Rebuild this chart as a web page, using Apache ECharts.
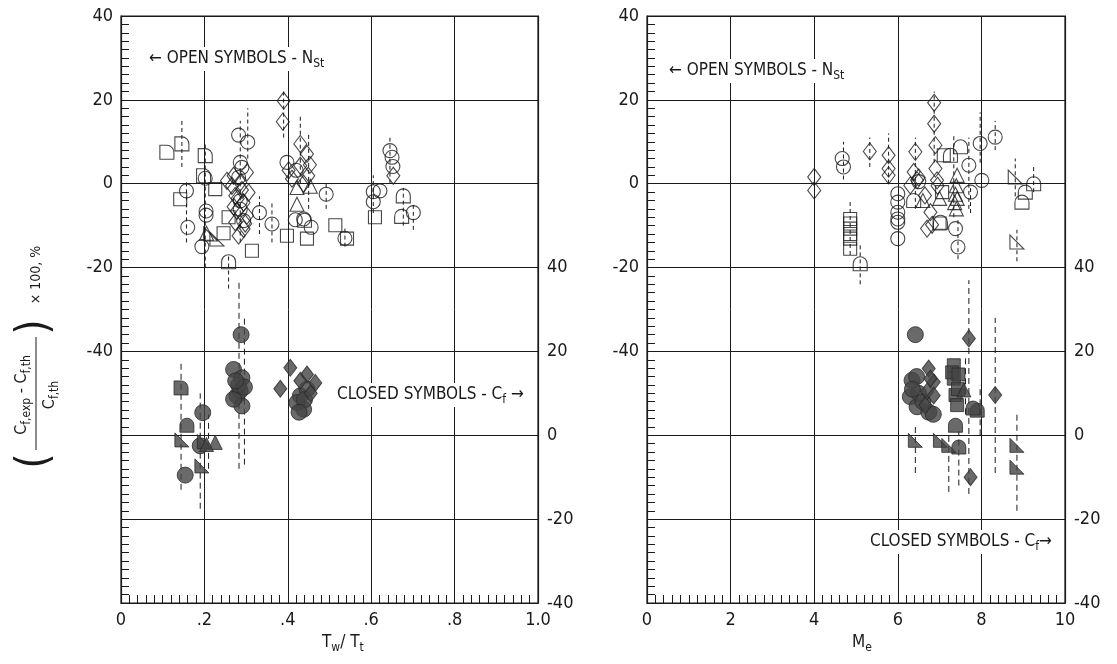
<!DOCTYPE html>
<html><head><meta charset="utf-8">
<script src="https://cdn.jsdelivr.net/npm/echarts@6/dist/echarts.min.js"></script>
<style>html,body{margin:0;padding:0;background:#fff}#c{width:1117px;height:664px}</style>
</head><body><div id="c"></div>
<script>
// ---------- Tick labels ----------
var leftXTicks = ['0', '.2', '.4', '.6', '.8', '1.0'];
var rightXTicks = ['0', '2', '4', '6', '8', '10'];

// ---------- LEFT PANEL (x = Tw/Tt) ----------
// open symbols (Stanton number), left-axis units
var L_openCircle = [[.157,-1.7],[.160,-10.4],[.194,-15],[.202,1.3],[.204,-6.5],[.204,-7.5],[.282,11.6],[.304,9.9],[.286,5.1],[.290,3.9],[.282,1.5],[.286,-4.1],[.286,-6.1],[.294,-8.8],[.332,-6.9],[.362,-9.6],[.418,-8.6],[.438,-8.4],[.456,-10.4],[.492,-2.5],[.537,-13],[.605,-1.9],[.605,-4.3],[.621,-1.7],[.701,-6.9],[.645,7.9],[.650,6.3],[.652,4.1],[.398,5.1],[.42,3.2]];
var L_openSquare = [[.142,-3.7],[.226,-1.3],[.258,-8],[.246,-11.8],[.314,-16],[.398,-12.4],[.446,-13.1],[.514,-9.9],[.542,-13.1],[.609,-8]];
var L_openDiamond = [[.390,19.8],[.388,14.8],[.430,9.5],[.446,7.1],[.430,4.3],[.449,1.9],[.438,0],[.402,3.2],[.41,1.2],[.453,4.5],[.653,1.9],[.270,1.9],[.286,0.3],[.302,2.7],[.274,-2.9],[.294,-4.5],[.278,-6.5],[.302,-7.6],[.274,-9.2],[.294,-10.8],[.282,-12.4],[.266,-0.5],[.306,-2.1],[.254,0.7],[.29,-1.5],[.28,-3.5],[.298,-9.5],[.27,-5.5]];
var L_openTriangle = [[.422,-0.9],[.422,-4.9],[.454,-0.6],[.205,-11.8]];
var L_openRightTri = [[.230,-13.2],[.215,-12]];
var L_openArch = [[.258,-18.6],[.677,-2.9],[.673,-7.8],[.440,-8.7]];
var L_openQuarter = [[.110,7.5],[.146,9.5],[.202,6.7],[.198,1.9]];
var L_openBars = [[.146,4,15.5],[.157,-14,1],[.202,-20,10],[.286,-14,15],[.304,6,18],[.43,0,16],[.45,-6,12],[.39,11,22],[.332,-12,-3],[.362,-14,-4],[.492,-6,0],[.537,-15,-10],[.605,-7,2],[.645,0,11],[.677,-10,-1],[.701,-11,-5],[.258,-25,-17]];
// closed symbols (skin friction), right-axis units
var L_closedCircle = [[.288,24],[.196,5.4],[.19,-2.5],[.154,-9.5],[.270,15.7],[.290,13.7],[.278,9.4],[.290,7],[.286,10.6],[.270,8.6],[.282,12],[.296,11.5],[.275,13],[.430,9.4],[.438,6.2],[.422,7.8],[.446,11],[.44,8.5],[.427,5.5]];
var L_closedDiamond = [[.406,16.1],[.382,11.1],[.446,14.5],[.466,12.5],[.43,13],[.455,10]];
var L_closedArch = [[.158,2.4]];
var L_closedQuarter = [[.144,11.3]];
var L_closedRightTri = [[.146,-1.1],[.194,-7.3],[.2,-1.5]];
var L_closedTriangle = [[.226,-1.7],[.205,-2.2]];
var L_closedBars = [[.283,-8,37],[.296,-7,28],[.144,-13,18],[.19,-17.5,10],[.21,-8,5]];

// ---------- RIGHT PANEL (x = Me) ----------
var R_openDiamond = [[4.0,1.6],[4.0,-1.6],[5.33,7.7],[5.78,6.8],[5.78,3.6],[5.78,2],[6.42,7.6],[6.38,2.8],[6.46,0.8],[6.30,-0.4],[6.87,19.3],[6.87,14.3],[6.90,9.2],[6.90,3.6],[6.94,0.8],[6.78,-6.8],[6.70,-10.7],[6.82,-9.8],[6.65,-2.8],[6.5,1.5],[6.95,-0.5]];
var R_openCircle = [[4.67,6],[4.70,4],[6.0,-2.4],[6.0,-4.4],[6.0,-6.8],[6.0,-8.4],[6.0,-9.2],[6.0,-13.1],[7.38,-10.7],[7.44,-15.1],[7.70,4.4],[7.74,-2],[7.97,9.6],[8.01,0.8],[8.33,11.1],[6.5,0.5]];
var R_openSquare = [[4.86,-8.4],[4.86,-10.7],[4.86,-13.1],[4.86,-15.5],[4.86,-9.5],[4.86,-12],[7.06,-2],[7.10,6.8],[7.0,-9.5]];
var R_openTriangle = [[7.42,2],[7.40,-0.5],[7.38,-2.5],[7.36,-4.5],[7.40,-6],[7.42,-3.5],[7.0,-3.5],[6.6,-4]];
var R_openRightTri = [[8.81,1.6],[8.85,-13.9]];
var R_openArch = [[5.10,-19.1],[7.50,8.8],[7.26,6.8],[9.05,-2],[8.97,-4.4],[9.25,0],[7.02,-9.2],[6.38,-4]];
var R_openBars = [[4.70,1,10],[4.86,-17,-4],[5.10,-24,-14],[5.33,4,11],[5.78,0,12],[6.42,-6,11],[6.87,5,22],[7.34,-8,12],[7.44,-18,-8],[7.70,-6,11],[7.97,5,17],[8.33,8,15],[8.81,-3,6],[8.85,-18.5,-11],[9.25,-2,4],[7.74,-7,-1]];
var R_closedCircle = [[6.42,24],[6.34,13.1],[6.30,9.2],[6.46,6.8],[6.74,5.5],[6.5,10],[6.6,8],[6.85,5],[6.45,14],[6.35,11]];
var R_closedDiamond = [[7.70,23.1],[8.33,9.6],[7.74,-10],[6.74,15.9],[6.86,12.7],[6.70,10.4],[6.66,7.2],[6.86,9.5],[6.78,13.5]];
var R_closedSquare = [[7.34,16.7],[7.34,13.5],[7.38,9.6],[7.42,7.2],[7.44,11],[7.3,15],[7.45,14.5]];
var R_closedTriangle = [[7.58,10.8]];
var R_closedArch = [[7.90,6],[7.38,2.4],[7.8,6.5],[7.46,-2.8]];
var R_closedRightTri = [[6.42,-1.2],[7.02,-1.2],[7.22,-2.4],[8.85,-2.4],[8.85,-7.6]];
var R_closedBars = [[7.70,-14,37],[8.33,-9,28],[8.85,-18,5],[6.42,-9,2],[7.22,-13.5,0],[7.46,-12,1],[7.62,5,19],[7.97,0,12]];

// ---------- styling ----------
var FONT = "'Liberation Sans Narrow','DejaVu Sans Condensed','DejaVu Sans',sans-serif";
var INK = '#1a1a1a';
var SYM = {
  circle: 'circle',
  square: 'rect',
  diamond: 'diamond',
  triangle: 'triangle',
  rightTri: 'path://M0,0L0,10L10,10Z',
  arch: 'path://M0,10L0,5A5,5 0 0 1 10,5L10,10Z',
  quarter: 'path://M0,0L5,0A5,5 0 0 1 10,5L10,10L0,10Z'
};
var SIZE = {circle:14, square:13, diamond:[13,17], triangle:14, rightTri:14, arch:14, quarter:14};

function scat(data, shape, g, yIdx, filled) {
  return {
    type: 'scatter', xAxisIndex: g, yAxisIndex: yIdx, data: data,
    symbol: SYM[shape], symbolSize: filled && shape === 'circle' ? 16 : SIZE[shape],
    symbolKeepAspect: false, silent: true, z: filled ? 4 : 3,
    itemStyle: filled ? {color: '#454545', borderColor: '#2a2a2a', borderWidth: 1}
                      : {color: 'rgba(0,0,0,0)', borderColor: INK, borderWidth: 1.1}
  };
}
function bars(data, g, yIdx, dash) {
  return {
    type: 'custom', xAxisIndex: g, yAxisIndex: yIdx, data: data, silent: true, z: 2,
    encode: {x: 0, y: [1, 2]},
    renderItem: function (params, api) {
      var p1 = api.coord([api.value(0), api.value(1)]);
      var p2 = api.coord([api.value(0), api.value(2)]);
      return {type: 'line', shape: {x1: p1[0], y1: p1[1], x2: p2[0], y2: p2[1]},
              style: {stroke: INK, lineWidth: 1, lineDash: dash}};
    }
  };
}

function xAx(g, max, interval, ticks) {
  return {
    gridIndex: g, type: 'value', min: 0, max: max, interval: interval, position: 'bottom',
    axisLine: {show: true, onZero: false, lineStyle: {color: INK, width: 1.2}},
    axisTick: {show: true, inside: true, length: 12, lineStyle: {color: INK}},
    minorTick: {show: true, splitNumber: 10, length: 8, lineStyle: {color: INK}},
    splitLine: {show: true, lineStyle: {color: INK, width: 1}},
    axisLabel: {color: INK, fontFamily: FONT, fontSize: 18, margin: 8,
      formatter: function (v) { return ticks[Math.round(v / interval)]; }}
  };
}
function yLeft(g) {
  return {
    gridIndex: g, type: 'value', min: -100, max: 40, interval: 20, position: 'left',
    axisLine: {show: true, onZero: false, lineStyle: {color: INK, width: 1.2}},
    axisTick: {show: true, inside: true, length: 9, lineStyle: {color: INK}},
    minorTick: {show: true, splitNumber: 10, length: 8, lineStyle: {color: INK}},
    splitLine: {show: true, lineStyle: {color: INK, width: 1}},
    axisLabel: {color: INK, fontFamily: FONT, fontSize: 18, margin: 8,
      formatter: function (v) { return v >= -40 ? String(v) : ''; }}
  };
}
function yRight(g) {
  return {
    gridIndex: g, type: 'value', min: -40, max: 100, interval: 20, position: 'right',
    axisLine: {show: true, onZero: false, lineStyle: {color: INK, width: 1.2}},
    axisTick: {show: false}, splitLine: {show: false},
    axisLabel: {color: INK, fontFamily: FONT, fontSize: 18, margin: 9,
      formatter: function (v) { return v <= 40 ? String(v) : ''; }}
  };
}

var sub = {s: {fontSize: 12, fontFamily: FONT, padding: [10, 0, 0, 0], verticalAlign: 'bottom'}};
function label(x, y, str) {
  return {type: 'text', left: x, top: y, z: 10, silent: true,
    style: {text: str, fill: INK, font: '17px ' + FONT, rich: sub, backgroundColor: '#fff', padding: [1, 3]}};
}

var series = [
  bars(L_openBars, 0, 0, [4, 3]), bars(L_closedBars, 0, 1, [6, 4]),
  scat(L_openCircle, 'circle', 0, 0, false), scat(L_openSquare, 'square', 0, 0, false),
  scat(L_openDiamond, 'diamond', 0, 0, false), scat(L_openTriangle, 'triangle', 0, 0, false),
  scat(L_openRightTri, 'rightTri', 0, 0, false), scat(L_openArch, 'arch', 0, 0, false),
  scat(L_openQuarter, 'quarter', 0, 0, false),
  scat(L_closedCircle, 'circle', 0, 1, true), scat(L_closedDiamond, 'diamond', 0, 1, true),
  scat(L_closedArch, 'arch', 0, 1, true), scat(L_closedQuarter, 'quarter', 0, 1, true),
  scat(L_closedRightTri, 'rightTri', 0, 1, true), scat(L_closedTriangle, 'triangle', 0, 1, true),

  bars(R_openBars, 1, 2, [4, 3]), bars(R_closedBars, 1, 3, [6, 4]),
  scat(R_openDiamond, 'diamond', 1, 2, false), scat(R_openCircle, 'circle', 1, 2, false),
  scat(R_openSquare, 'square', 1, 2, false), scat(R_openTriangle, 'triangle', 1, 2, false),
  scat(R_openRightTri, 'rightTri', 1, 2, false), scat(R_openArch, 'arch', 1, 2, false),
  scat(R_closedCircle, 'circle', 1, 3, true), scat(R_closedDiamond, 'diamond', 1, 3, true),
  scat(R_closedSquare, 'square', 1, 3, true), scat(R_closedTriangle, 'triangle', 1, 3, true),
  scat(R_closedArch, 'arch', 1, 3, true), scat(R_closedRightTri, 'rightTri', 1, 3, true)
];

var chart = echarts.init(document.getElementById('c'), null, {renderer: 'canvas'});
chart.setOption({
  backgroundColor: '#fff',
  animation: false,
  grid: [
    {left: 121, right: 579, top: 16, bottom: 61, show: true, borderColor: INK, borderWidth: 1.2, backgroundColor: '#fff'},
    {left: 647, right: 52, top: 16, bottom: 61, show: true, borderColor: INK, borderWidth: 1.2, backgroundColor: '#fff'}
  ],
  xAxis: [xAx(0, 1, 0.2, leftXTicks), xAx(1, 10, 2, rightXTicks)],
  yAxis: [yLeft(0), yRight(0), yLeft(1), yRight(1)],
  series: series,
  graphic: [
    label(146, 47, '← OPEN SYMBOLS - N{s|St}'),
    label(666, 59, '← OPEN SYMBOLS - N{s|St}'),
    label(334, 383, 'CLOSED SYMBOLS - C{s|f} →'),
    label(867, 530, 'CLOSED SYMBOLS - C{s|f}→'),
    {type: 'text', left: 322, top: 634, silent: true,
      style: {text: 'T{s|w}/ T{s|t}', fill: INK, font: '17px ' + FONT, rich: sub}},
    {type: 'text', left: 852, top: 634, silent: true,
      style: {text: 'M{s|e}', fill: INK, font: '17px ' + FONT, rich: sub}},
    {type: 'group', x: 36, y: 395, rotation: Math.PI / 2, silent: true, children: [
      {type: 'text', x: 0, y: -14, style: {text: 'C{s|f,exp} - C{s|f,th}', fill: INK, font: '16px ' + FONT, rich: sub, align: 'center', verticalAlign: 'middle'}},
      {type: 'line', shape: {x1: -55, y1: 0, x2: 58, y2: 0}, style: {stroke: INK, lineWidth: 1}},
      {type: 'text', x: 0, y: 14, style: {text: 'C{s|f,th}', fill: INK, font: '16px ' + FONT, rich: sub, align: 'center', verticalAlign: 'middle'}},
      {type: 'text', x: -66, y: 0, style: {text: '(', fill: INK, font: '300 44px ' + FONT, align: 'center', verticalAlign: 'middle'}},
      {type: 'text', x: 68, y: 0, style: {text: ')', fill: INK, font: '300 44px ' + FONT, align: 'center', verticalAlign: 'middle'}},
      {type: 'text', x: 120, y: 0, style: {text: '× 100, %', fill: INK, font: '14px ' + FONT, align: 'center', verticalAlign: 'middle'}}
    ]}
  ]
});
</script></body></html>
